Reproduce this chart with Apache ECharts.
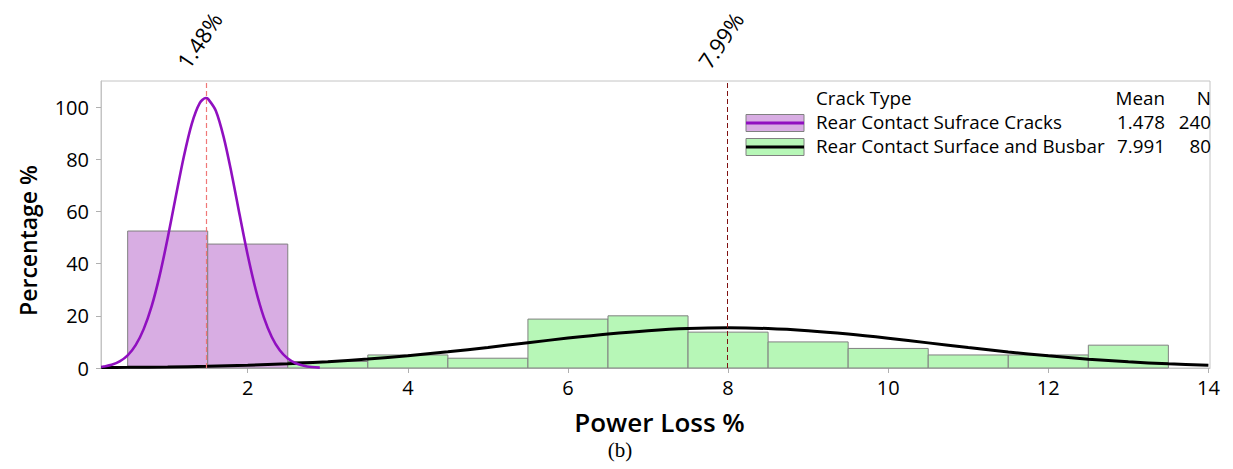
<!DOCTYPE html>
<html>
<head>
<meta charset="utf-8">
<script src="https://cdn.jsdelivr.net/npm/echarts@6/dist/echarts.min.js"></script>
<style>
  html, body { margin: 0; padding: 0; background: #ffffff; }
  #chart { width: 1233px; height: 469px; }
</style>
</head>
<body>
<div id="chart"></div>
<script>
// ---------------- data ----------------
const seriesNames = ['Rear Contact Sufrace Cracks', 'Rear Contact Surface and Busbar'];
const means = [1.478, 7.991];
const counts = [240, 80];

// histogram bins (lower edge, upper edge) and percentages
const purpleBinLo = [0.5, 1.5];
const purpleBinHi = [1.5, 2.5];
const purplePct = [52.5, 47.5];

const greenBinLo = [2.5, 3.5, 4.5, 5.5, 6.5, 7.5, 8.5, 9.5, 10.5, 11.5, 12.5];
const greenBinHi = [3.5, 4.5, 5.5, 6.5, 7.5, 8.5, 9.5, 10.5, 11.5, 12.5, 13.5];
const greenPct = [2.5, 5, 3.75, 18.75, 20, 13.75, 10, 7.5, 5, 5, 8.75];

// fitted normal curves
const purpleCurveX = [0.17, 0.2, 0.3, 0.4, 0.5, 0.6, 0.7, 0.8, 0.9, 1.0, 1.1, 1.2, 1.3, 1.4, 1.478, 1.5, 1.6, 1.7, 1.8, 1.9, 2.0, 2.1, 2.2, 2.3, 2.4, 2.5, 2.6, 2.7, 2.8, 2.9];
const purpleCurveY = [0.43, 0.55, 1.21, 2.5, 4.83, 8.75, 14.9, 23.7, 35.5, 49.8, 65.5, 80.8, 93.5, 101.5, 103.5, 103.3, 98.7, 88.4, 74.3, 58.5, 43.2, 30.0, 19.5, 11.9, 6.79, 3.64, 1.83, 0.86, 0.38, 0.16];

const greenCurveX = [0.17, 0.5, 1.0, 1.5, 2.0, 2.5, 3.0, 3.5, 4.0, 4.5, 5.0, 5.5, 6.0, 6.5, 7.0, 7.5, 8.0, 8.5, 9.0, 9.5, 10.0, 10.5, 11.0, 11.5, 12.0, 12.5, 13.0, 13.5, 14.0];
const greenCurveY = [0.16, 0.24, 0.40, 0.67, 1.06, 1.63, 2.40, 3.43, 4.70, 6.21, 7.90, 9.70, 11.46, 13.05, 14.31, 15.13, 15.40, 15.11, 14.27, 13.00, 11.40, 9.63, 7.84, 6.15, 4.65, 3.38, 2.37, 1.60, 1.04];

const xTicks = [2, 4, 6, 8, 10, 12, 14];
const yTicks = [0, 20, 40, 60, 80, 100];

// ---------------- styles ----------------
const FONT = '"Open Sans", "Noto Sans", sans-serif';
const purpleFill = '#D8ADE3';
const greenFill = '#B7F7B7';
const barStroke = '#808080';
const purpleLine = '#9010C0';
const greenLine = '#000000';

function zip3(a, b, c) { return a.map((v, i) => [v, b[i], c[i]]); }
function zip2(a, b) { return a.map((v, i) => [v, b[i]]); }

function histRenderer(fill) {
  return function (params, api) {
    const p0 = api.coord([api.value(0), api.value(2)]);
    const p1 = api.coord([api.value(1), 0]);
    return {
      type: 'rect',
      shape: { x: p0[0], y: p0[1], width: p1[0] - p0[0], height: p1[1] - p0[1] },
      style: { fill: fill, stroke: barStroke, lineWidth: 1 }
    };
  };
}

const chart = echarts.init(document.getElementById('chart'), null, { renderer: 'svg' });

const option = {
  animation: false,
  backgroundColor: '#ffffff',
  grid: {
    left: 101, right: 23, top: 81, bottom: 101,
    show: true, borderColor: '#c4c4c4', borderWidth: 1, backgroundColor: 'transparent'
  },
  xAxis: {
    type: 'value', min: 0.167, max: 14.02,
    name: 'Power Loss %', nameLocation: 'middle', nameGap: 41,
    nameTextStyle: { fontFamily: FONT, fontSize: 26, fontWeight: 600, color: '#000', padding: [0, 0, 0, 8] },
    axisLine: { show: true, lineStyle: { color: '#c4c4c4', width: 1 } },
    axisTick: { show: true, length: 5, lineStyle: { color: '#b0b0b0' }, customValues: xTicks },
    axisLabel: { fontFamily: FONT, fontSize: 20, color: '#000', margin: 9, customValues: xTicks },
    splitLine: { show: false }
  },
  yAxis: {
    type: 'value', min: 0, max: 110,
    name: 'Percentage %', nameLocation: 'middle', nameGap: 62,
    nameTextStyle: { fontFamily: FONT, fontSize: 23, fontWeight: 600, color: '#000', padding: [0, 32, 0, 0] },
    axisLine: { show: true, lineStyle: { color: '#c4c4c4', width: 1 } },
    axisTick: { show: true, length: 5, lineStyle: { color: '#b0b0b0' }, customValues: yTicks },
    axisLabel: { fontFamily: FONT, fontSize: 20, color: '#000', margin: 12, customValues: yTicks },
    splitLine: { show: false }
  },
  series: [
    {
      type: 'line', data: [], z: 1, silent: true,
      markLine: {
        silent: true, symbol: 'none', label: { show: false },
        data: [
          { xAxis: means[0], lineStyle: { color: '#F07878', type: [5, 3], width: 1.2 } },
          { xAxis: means[1], lineStyle: { color: '#801010', type: [5, 3], width: 1 } }
        ]
      }
    },
    {
      name: seriesNames[0], type: 'custom', z: 2,
      renderItem: histRenderer(purpleFill),
      encode: { x: [0, 1], y: 2 },
      data: zip3(purpleBinLo, purpleBinHi, purplePct)
    },
    {
      name: seriesNames[1], type: 'custom', z: 2,
      renderItem: histRenderer(greenFill),
      encode: { x: [0, 1], y: 2 },
      data: zip3(greenBinLo, greenBinHi, greenPct)
    },
    {
      type: 'line', z: 4, showSymbol: false, smooth: 0.3,
      lineStyle: { color: greenLine, width: 3 },
      data: zip2(greenCurveX, greenCurveY)
    },
    {
      type: 'line', z: 5, showSymbol: false, smooth: 0.3,
      lineStyle: { color: purpleLine, width: 2.6 },
      data: zip2(purpleCurveX, purpleCurveY)
    }
  ]
};
chart.setOption(option);

// ---- annotations: mean labels & legend table ----
const yTop = 110;
const graphics = [];
means.forEach(function (m) {
  const p = chart.convertToPixel({ gridIndex: 0 }, [m, yTop]);
  graphics.push({
    type: 'text', x: p[0] - 7, y: p[1] - 41, rotation: 56 * Math.PI / 180,
    style: { text: m.toFixed(2) + '%', font: '400 22px ' + FONT, fill: '#000', align: 'center', verticalAlign: 'middle' }
  });
});

const legX = 746, legW = 58, textX = 816, meanRight = 1165, nRight = 1211;
const rowsY = [98, 122, 146];
const legFills = [purpleFill, greenFill];
const legLines = [purpleLine, greenLine];
const legText = function (txt, x, y, align) {
  return { type: 'text', x: x, y: y, style: { text: txt, font: '400 18.8px ' + FONT, lineHeight: 20, fill: '#000', align: align, verticalAlign: 'middle' } };
};
graphics.push(legText('Crack Type', textX, rowsY[0], 'left'));
graphics.push(legText('Mean', meanRight, rowsY[0], 'right'));
graphics.push(legText('N', nRight, rowsY[0], 'right'));
for (let i = 0; i < 2; i++) {
  const cy = rowsY[i + 1] + 1;
  graphics.push({ type: 'rect', shape: { x: legX, y: cy - 8.5, width: legW, height: 17 }, style: { fill: legFills[i], stroke: barStroke, lineWidth: 1 } });
  graphics.push({ type: 'line', shape: { x1: legX, y1: cy, x2: legX + legW, y2: cy }, style: { stroke: legLines[i], lineWidth: 3 } });
  graphics.push(legText(seriesNames[i], textX, rowsY[i + 1], 'left'));
  graphics.push(legText(means[i].toFixed(3), meanRight, rowsY[i + 1], 'right'));
  graphics.push(legText(String(counts[i]), nRight, rowsY[i + 1], 'right'));
}
graphics.push({ type: 'text', x: 620, y: 450, style: { text: '(b)', font: '400 21px "Liberation Serif", "DejaVu Serif", serif', fill: '#000', align: 'center', verticalAlign: 'middle' } });

chart.setOption({ graphic: graphics });
</script>
</body>
</html>
